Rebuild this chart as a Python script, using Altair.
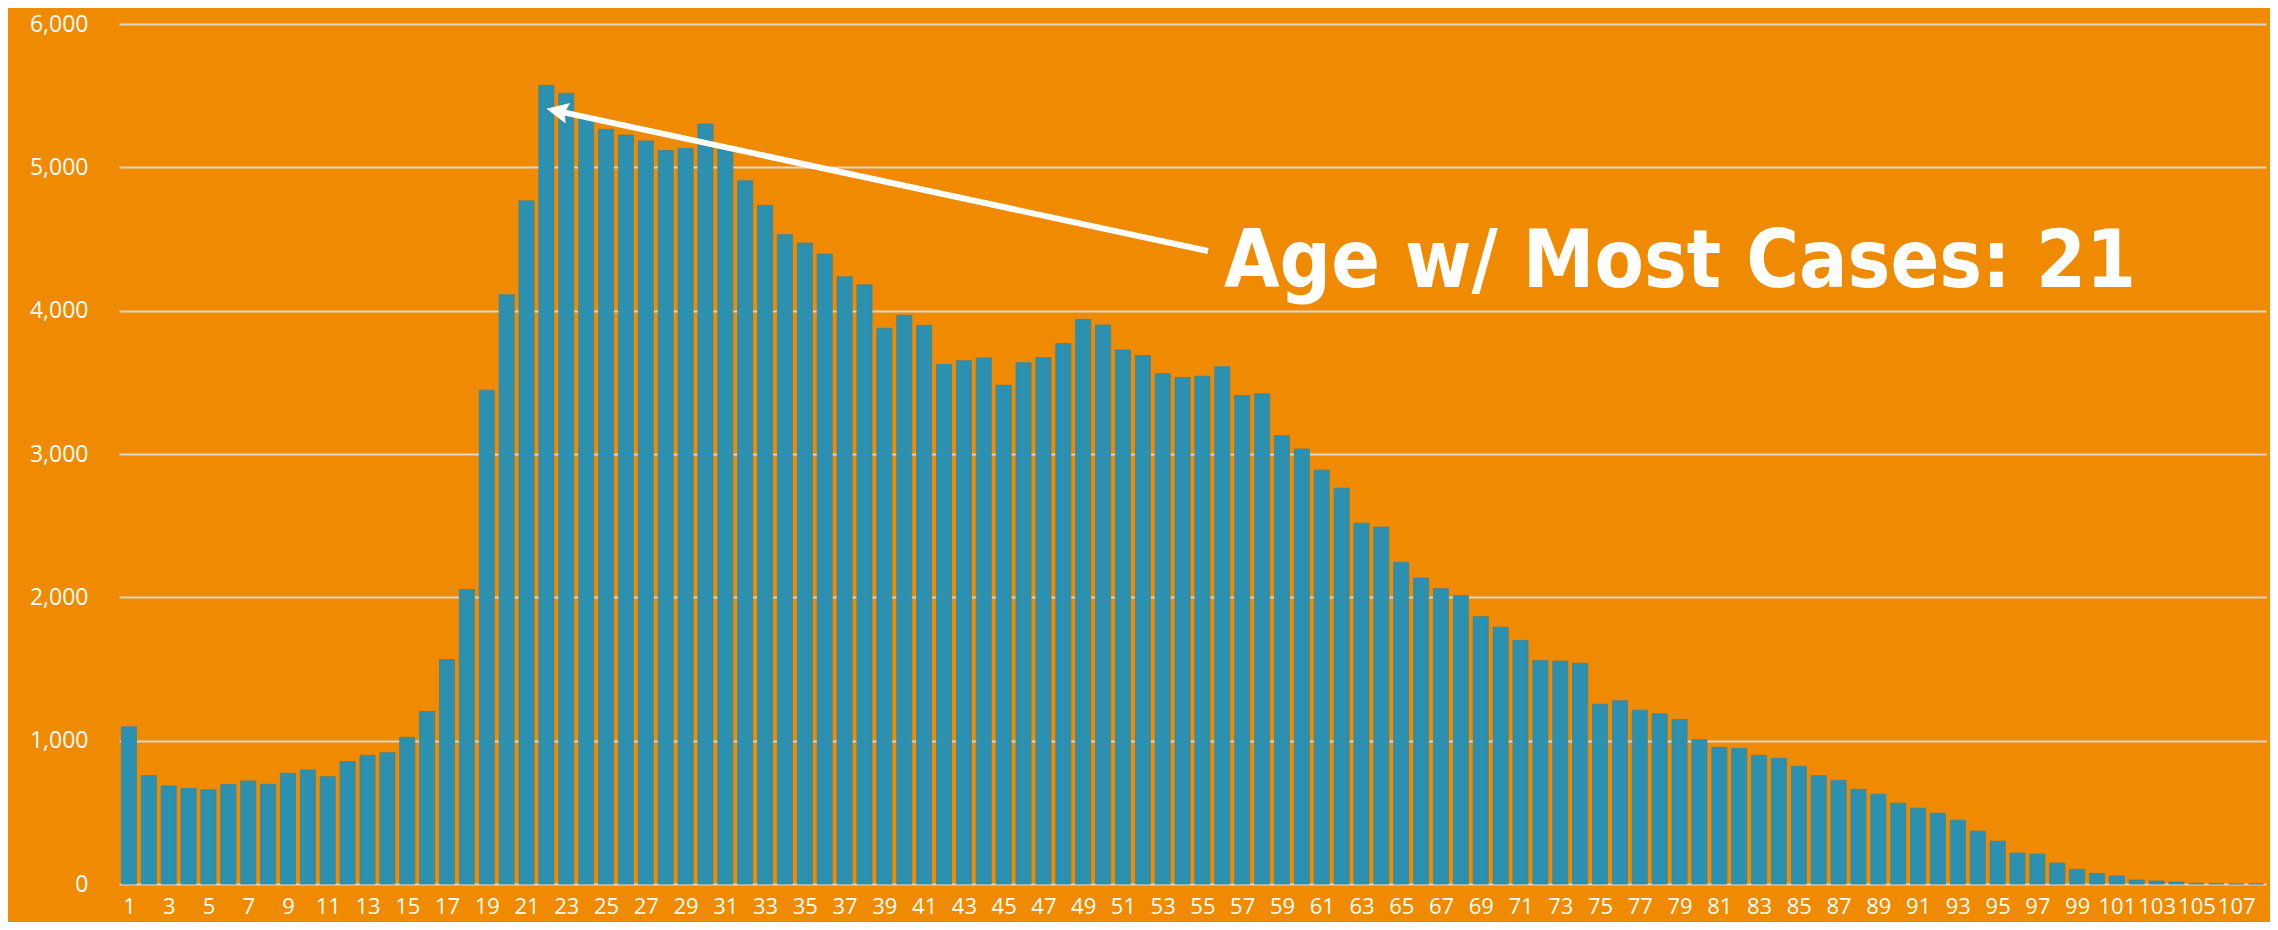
import math
import altair as alt
import pandas as pd

# ---- data ----
ages = list(range(1, 109))
cases = [
    1097, 756, 684, 666, 657, 694, 719, 696, 773, 796,
    749, 854, 898, 916, 1023, 1204, 1566, 2055, 3445, 4111,
    4766, 5572, 5517, 5350, 5265, 5225, 5184, 5117, 5133, 5302,
    5140, 4906, 4735, 4530, 4472, 4395, 4236, 4180, 3877, 3968,
    3898, 3625, 3651, 3670, 3480, 3637, 3672, 3771, 3940, 3900,
    3726, 3687, 3561, 3534, 3543, 3609, 3408, 3420, 3128, 3035,
    2887, 2761, 2517, 2490, 2244, 2135, 2060, 2012, 1865, 1792,
    1699, 1558, 1555, 1540, 1254, 1278, 1212, 1187, 1148, 1007,
    954, 947, 898, 877, 821, 756, 724, 661, 626, 564,
    529, 494, 445, 369, 299, 216, 209, 146, 102, 74,
    56, 28, 21, 14, 5, 2, 1, 1,
]
x_tick_labels = list(range(1, 108, 2))
y_ticks = [0, 1000, 2000, 3000, 4000, 5000, 6000]

annotation_text = ["Age w/ Most Cases: 21"]
annotation_pos = [56.08, 4166]      # text anchor (age units, cases)
arrow_tail = [55.28, 4416]
arrow_tip = [22.0, 5409]

# ---- layout / style ----
W, H = 2147, 860
X_DOM = [0.5, 108.5]
Y_DOM = [0, 6000]
ORANGE = "#F08A00"
BAR = "#2C90B0"
GRID = "#DCD6CC"
FONT = "Open Sans"

df = pd.DataFrame({"age": ages, "cases": cases})

xs = alt.Scale(domain=X_DOM, nice=False, zero=False)
ys = alt.Scale(domain=Y_DOM, nice=False)

bars = (
    alt.Chart(df)
    .transform_calculate(x0="datum.age - 0.38", x1="datum.age + 0.38")
    .mark_bar(color=BAR, stroke="#3D8799", strokeWidth=0.8)
    .encode(
        x=alt.X(
            "x0:Q",
            scale=xs,
            axis=alt.Axis(
                values=x_tick_labels,
                format="d",
                title=None,
                grid=False,
                ticks=False,
                domain=False,
                labelColor="white",
                labelFont=FONT,
                labelFontSize=22,
                labelPadding=12,
                labelFlush=False,
            ),
        ),
        x2="x1:Q",
        y=alt.Y(
            "cases:Q",
            scale=ys,
            axis=alt.Axis(
                values=y_ticks,
                format=",.0f",
                title=None,
                ticks=False,
                domain=False,
                grid=True,
                gridColor=GRID,
                gridWidth=2,
                labelColor="white",
                labelFont=FONT,
                labelFontSize=23,
                labelPadding=31,
            ),
        ),
        y2=alt.datum(0),
    )
)

# arrow geometry (pixel direction derived from the data scales)
px_per_x = W / (X_DOM[1] - X_DOM[0])
px_per_y = H / (Y_DOM[1] - Y_DOM[0])
dx_px = (arrow_tip[0] - arrow_tail[0]) * px_per_x
dy_px = -(arrow_tip[1] - arrow_tail[1]) * px_per_y
L = math.hypot(dx_px, dy_px)
ux, uy = dx_px / L, dy_px / L
angle = math.degrees(math.atan2(dx_px, -dy_px)) % 360
back = 14  # px: line stops inside the arrow head
line_end = [arrow_tip[0] - ux * back / px_per_x, arrow_tip[1] + uy * back / px_per_y]

arrow_df = pd.DataFrame(
    {"x": [arrow_tail[0]], "y": [arrow_tail[1]], "x2": [line_end[0]], "y2": [line_end[1]]}
)
arrow_line = (
    alt.Chart(arrow_df)
    .mark_rule(color="white", strokeWidth=6)
    .encode(
        x=alt.X("x:Q", scale=xs),
        y=alt.Y("y:Q", scale=ys),
        x2="x2:Q",
        y2="y2:Q",
    )
)

head_df = pd.DataFrame({"x": [arrow_tip[0]], "y": [arrow_tip[1]]})
arrow_head = (
    alt.Chart(head_df)
    .mark_point(
        shape="M0,0L0.95,2L0,1.7L-0.95,2Z",
        filled=True,
        color="white",
        opacity=1,
        size=484,
        angle=round(angle, 2),
        strokeWidth=0,
    )
    .encode(x=alt.X("x:Q", scale=xs), y=alt.Y("y:Q", scale=ys))
)

text_df = pd.DataFrame({"x": [annotation_pos[0]], "y": [annotation_pos[1]], "t": annotation_text})
label = (
    alt.Chart(text_df)
    .mark_text(
        align="left",
        baseline="alphabetic",
        font="Noto Sans ExtraCondensed, Noto Sans Condensed, DejaVu Sans Condensed, sans-serif",
        fontWeight="bold",
        fontSize=80,
        color="white",
    )
    .encode(x=alt.X("x:Q", scale=xs), y=alt.Y("y:Q", scale=ys), text="t:N")
)

chart = (
    alt.layer(bars, arrow_line, arrow_head, label)
    .properties(
        width=W,
        height=H,
        background=ORANGE,
        autosize=alt.AutoSizeParams(type="none"),
        padding={"left": 111, "top": 16, "right": 4, "bottom": 38},
    )
    .configure_view(stroke=None)
)

chart.save("out.html", embed_options={"renderer": "svg", "actions": False})
